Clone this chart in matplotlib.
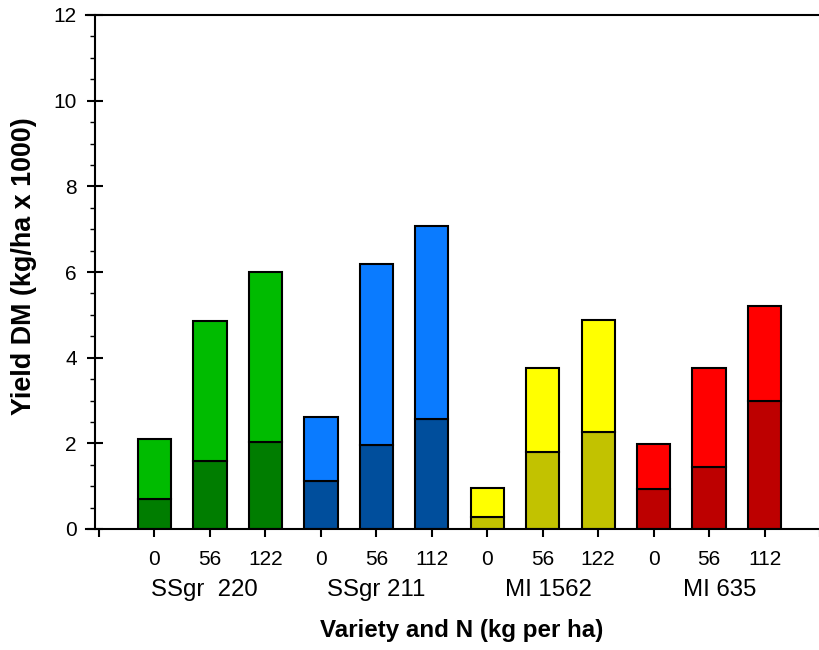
import matplotlib
import matplotlib.pyplot as plt
import numpy as np
from matplotlib.ticker import MultipleLocator
import matplotlib.transforms as mtransforms

matplotlib.use('Agg')

plt.rcParams['font.family'] = ['Liberation Sans', 'DejaVu Sans']

# Data
varieties = ["SSgr  220", "SSgr 211", "MI 1562", "MI 635"]
n_levels = ["0", "56", "122", "0", "56", "112", "0", "56", "122", "0", "56", "112"]
totals = [2.10, 4.86, 6.01, 2.61, 6.18, 7.08, 0.95, 3.77, 4.89, 1.98, 3.77, 5.21]
lower = [0.70, 1.59, 2.03, 1.12, 1.96, 2.57, 0.29, 1.80, 2.26, 0.93, 1.44, 3.00]

dark_colors = ["#007D00", "#004E9C", "#C2C200", "#BD0000"]
light_colors = ["#00BB00", "#0A7BFF", "#FFFF00", "#FF0000"]

fig = plt.figure(figsize=(8.2, 6.5), dpi=100)
ax = fig.add_axes([86 / 820, 1 - 529 / 650, 1 - 86 / 820, (529 - 15) / 650])

x = np.arange(1, len(totals) + 1)
upper = np.array(totals) - np.array(lower)
for i in range(len(x)):
    g = i // 3
    ax.bar(x[i], lower[i], width=0.6, color=dark_colors[g], edgecolor="black",
           linewidth=1.5, zorder=2)
    ax.bar(x[i], upper[i], bottom=lower[i], width=0.6, color=light_colors[g],
           edgecolor="black", linewidth=1.5, zorder=2)

ax.set_xlim(-0.235, 12.97)
ax.set_ylim(0, 12)

ax.spines["right"].set_visible(False)
ax.spines["left"].set_position(("data", -0.07))
for side in ["left", "bottom", "top"]:
    ax.spines[side].set_linewidth(1.5)

ax.yaxis.set_major_locator(MultipleLocator(2))
ax.yaxis.set_minor_locator(MultipleLocator(0.5))
ax.tick_params(axis="y", which="major", direction="inout", length=11.5, width=1.5,
               labelsize=15, pad=7.5)
ax.tick_params(axis="y", which="minor", direction="out", length=3.6, width=1)

ax.set_xticks(np.arange(0, 14))
ax.set_xticklabels([""] + n_levels + [""])
ax.tick_params(axis="x", which="major", direction="out", length=6, width=1.5,
               labelsize=15, pad=9)

# Variety group labels under the N levels
trans = mtransforms.blended_transform_factory(ax.transData, fig.transFigure)
group_x = [1.9, 5.0, 8.1, 11.2]
for gx, name in zip(group_x, varieties):
    ax.text(gx, 1 - 590 / 650, name, transform=trans, ha="center", va="center",
            fontsize=17.3)

fig.text(462 / 820, 1 - 631 / 650, "Variety and N (kg per ha)", ha="center",
         va="center", fontsize=17.4, fontweight="bold")
fig.text(24 / 820, 1 - 266 / 650, "Yield DM (kg/ha x 1000)", ha="center",
         va="center", rotation=90, fontsize=19.4, fontweight="bold")

fig.savefig("out.png", dpi=100)
